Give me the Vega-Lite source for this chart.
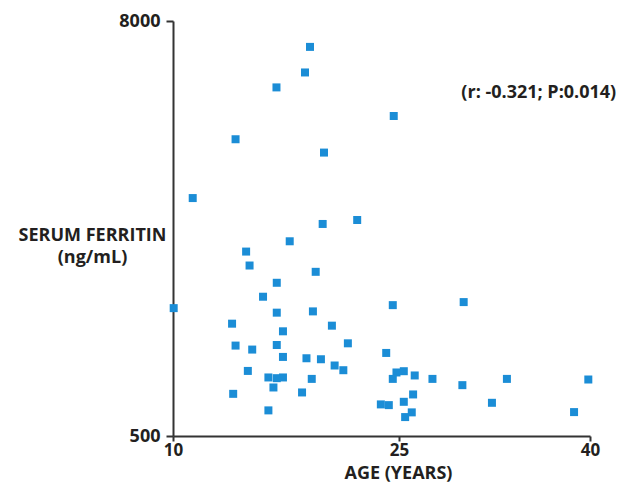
{
  "$schema": "https://vega.github.io/schema/vega-lite/v6.json",
  "autosize": {"type": "none"},
  "padding": {"left": 173, "top": 21, "right": 41, "bottom": 46},
  "width": 417,
  "height": 415,
  "background": "white",
  "config": {
    "view": {"stroke": null},
    "font": "Open Sans",
    "axis": {"grid": false, "domainColor": "#333333", "tickColor": "#333333", "domainWidth": 2, "tickWidth": 2, "labelFont": "Open Sans", "labelFontWeight": "bold", "labelFontSize": 18, "labelColor": "#231f20", "titleFont": "Open Sans", "titleFontWeight": "bold", "titleFontSize": 18, "titleColor": "#231f20"}
  },
  "datasets": {
    "points": [
      {"age": 18.68, "ferritin": 7532},
      {"age": 18.34, "ferritin": 7070},
      {"age": 16.43, "ferritin": 6800},
      {"age": 24.61, "ferritin": 6283},
      {"age": 13.79, "ferritin": 5863},
      {"age": 19.64, "ferritin": 5622},
      {"age": 11.16, "ferritin": 4800},
      {"age": 19.55, "ferritin": 4332},
      {"age": 21.97, "ferritin": 4404},
      {"age": 17.31, "ferritin": 4019},
      {"age": 14.46, "ferritin": 3833},
      {"age": 14.68, "ferritin": 3581},
      {"age": 19.07, "ferritin": 3467},
      {"age": 16.45, "ferritin": 3269},
      {"age": 15.55, "ferritin": 3017},
      {"age": 10.04, "ferritin": 2811},
      {"age": 16.45, "ferritin": 2729},
      {"age": 18.88, "ferritin": 2752},
      {"age": 13.57, "ferritin": 2530},
      {"age": 16.86, "ferritin": 2392},
      {"age": 20.19, "ferritin": 2494},
      {"age": 13.79, "ferritin": 2134},
      {"age": 16.45, "ferritin": 2145},
      {"age": 21.31, "ferritin": 2175},
      {"age": 14.85, "ferritin": 2062},
      {"age": 16.86, "ferritin": 1929},
      {"age": 18.44, "ferritin": 1905},
      {"age": 19.43, "ferritin": 1887},
      {"age": 20.38, "ferritin": 1774},
      {"age": 20.99, "ferritin": 1689},
      {"age": 14.57, "ferritin": 1676},
      {"age": 15.9, "ferritin": 1558},
      {"age": 16.45, "ferritin": 1545},
      {"age": 16.86, "ferritin": 1558},
      {"age": 18.8, "ferritin": 1532},
      {"age": 16.23, "ferritin": 1377},
      {"age": 13.64, "ferritin": 1262},
      {"age": 18.14, "ferritin": 1287},
      {"age": 15.9, "ferritin": 963},
      {"age": 24.54, "ferritin": 2865},
      {"age": 29.87, "ferritin": 2920},
      {"age": 24.06, "ferritin": 2001},
      {"age": 24.81, "ferritin": 1648},
      {"age": 25.35, "ferritin": 1671},
      {"age": 24.54, "ferritin": 1532},
      {"age": 26.16, "ferritin": 1594},
      {"age": 27.49, "ferritin": 1532},
      {"age": 29.77, "ferritin": 1419},
      {"age": 33.25, "ferritin": 1532},
      {"age": 39.86, "ferritin": 1521},
      {"age": 26.04, "ferritin": 1251},
      {"age": 25.35, "ferritin": 1118},
      {"age": 23.67, "ferritin": 1071},
      {"age": 24.25, "ferritin": 1058},
      {"age": 32.07, "ferritin": 1100},
      {"age": 38.68, "ferritin": 932},
      {"age": 25.94, "ferritin": 927},
      {"age": 25.45, "ferritin": 842}
    ],
    "note": [
      {"age": 35.8, "ferritin": 6690, "label": "(r: -0.321; P:0.014)"}
    ]
  },
  "layer": [
    {
      "data": {"name": "points"},
      "mark": {"type": "point", "shape": "square", "filled": true, "size": 64, "color": "#1b8dd6", "opacity": 1},
      "encoding": {
        "x": {
          "field": "age", "type": "quantitative",
          "scale": {"type": "pow", "exponent": 0.74, "domain": [10, 40], "nice": false, "zero": false},
          "axis": {"values": [10, 25, 40], "format": "d", "tickSize": 5, "labelPadding": 1, "labelFontSize": 17, "title": "AGE (YEARS)", "titleX": 225, "titleY": 42, "titleBaseline": "alphabetic", "titleAnchor": null, "titleAlign": "center", "labelFlush": false}
        },
        "y": {
          "field": "ferritin", "type": "quantitative",
          "scale": {"domain": [500, 8000], "nice": false, "zero": false},
          "axis": {"values": [500, 8000], "format": "d", "tickSize": 7, "labelPadding": 6, "title": ["SERUM FERRITIN", "(ng/mL)"], "titleAngle": 0, "titleX": -81, "titleY": 219, "titleAlign": "center", "titleBaseline": "alphabetic", "titleLineHeight": 22, "titleAnchor": null, "labelFlush": false}
        }
      }
    },
    {
      "data": {"name": "note"},
      "mark": {"type": "text", "font": "Open Sans", "fontWeight": "bold", "fontSize": 18, "color": "#231f20", "align": "center", "baseline": "middle"},
      "encoding": {
        "x": {"field": "age", "type": "quantitative"},
        "y": {"field": "ferritin", "type": "quantitative"},
        "text": {"field": "label"}
      }
    }
  ]
}
